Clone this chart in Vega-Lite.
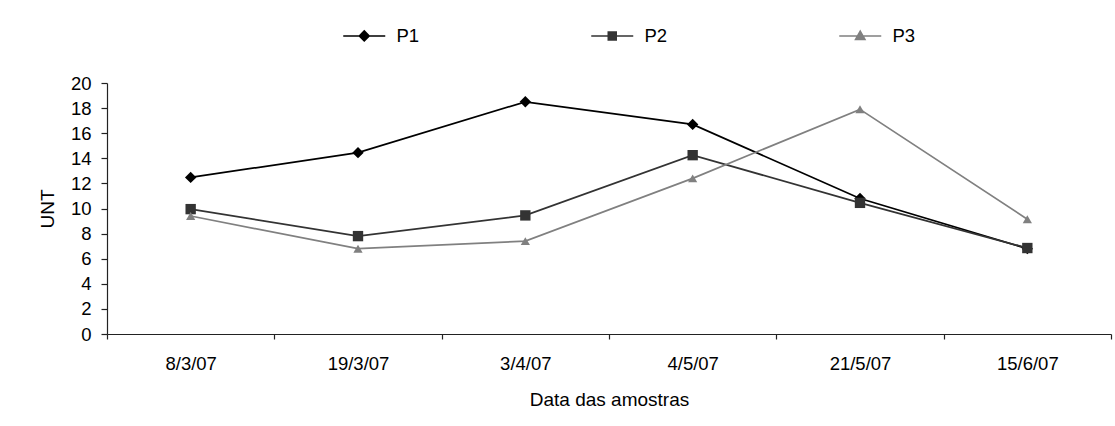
{
  "$schema": "https://vega.github.io/schema/vega-lite/v6.json",
  "autosize": {"type": "none"},
  "padding": {"left": 107, "top": 83, "right": 4, "bottom": 92},
  "width": 1004,
  "height": 251,
  "background": "white",
  "config": {
    "view": {"stroke": null},
    "font": "Liberation Sans",
    "axis": {"grid": false, "domainColor": "#222", "tickColor": "#222", "labelColor": "#000", "titleColor": "#000", "labelFont": "Liberation Sans", "titleFont": "Liberation Sans", "labelFontSize": 18.5, "titleFontSize": 19, "titleFontWeight": "normal", "domainWidth": 1.2, "tickWidth": 1.2}
  },
  "data": {"values": [
    {"date": "8/3/07", "series": "P1", "value": 12.48},
    {"date": "19/3/07", "series": "P1", "value": 14.45},
    {"date": "3/4/07", "series": "P1", "value": 18.5},
    {"date": "4/5/07", "series": "P1", "value": 16.7},
    {"date": "21/5/07", "series": "P1", "value": 10.8},
    {"date": "15/6/07", "series": "P1", "value": 6.8},
    {"date": "8/3/07", "series": "P2", "value": 9.95},
    {"date": "19/3/07", "series": "P2", "value": 7.8},
    {"date": "3/4/07", "series": "P2", "value": 9.45},
    {"date": "4/5/07", "series": "P2", "value": 14.25},
    {"date": "21/5/07", "series": "P2", "value": 10.45},
    {"date": "15/6/07", "series": "P2", "value": 6.85},
    {"date": "8/3/07", "series": "P3", "value": 9.4},
    {"date": "19/3/07", "series": "P3", "value": 6.8},
    {"date": "3/4/07", "series": "P3", "value": 7.4},
    {"date": "4/5/07", "series": "P3", "value": 12.4},
    {"date": "21/5/07", "series": "P3", "value": 17.9},
    {"date": "15/6/07", "series": "P3", "value": 9.15}
  ]},
  "encoding": {
    "x": {
      "field": "date", "type": "nominal", "sort": null, "bandPosition": 0.5,
      "scale": {"type": "band", "paddingInner": 0, "paddingOuter": 0},
      "axis": {"title": "Data das amostras", "labelAngle": 0, "tickBand": "extent", "tickSize": 5, "labelPadding": 15, "titleY": 65, "titleBaseline": "middle", "titleAnchor": "middle"}
    },
    "y": {
      "field": "value", "type": "quantitative",
      "scale": {"domain": [0, 20], "nice": false, "zero": true},
      "axis": {"title": "UNT", "values": [0, 2, 4, 6, 8, 10, 12, 14, 16, 18, 20], "tickSize": 6, "labelPadding": 10, "titleX": -60, "titleY": 125.5, "titleAngle": -90, "titleAlign": "center", "titleBaseline": "middle"}
    },
    "color": {
      "field": "series", "type": "nominal",
      "scale": {"domain": ["P1", "P2", "P3"], "range": ["#000000", "#333333", "#808080"]}
    }
  },
  "layer": [
    {
      "mark": {"type": "line", "strokeWidth": 1.7},
      "encoding": {"color": {"field": "series", "type": "nominal", "legend": null}}
    },
    {
      "mark": {"type": "point", "filled": true, "opacity": 1},
      "encoding": {
        "color": {"field": "series", "type": "nominal", "legend": null},
        "shape": {"field": "series", "type": "nominal", "scale": {"domain": ["P1", "P2", "P3"], "range": ["diamond", "square", "triangle-up"]}, "legend": null},
        "size": {"field": "series", "type": "nominal", "scale": {"domain": ["P1", "P2", "P3"], "range": [130, 85, 150]}, "legend": null}
      }
    },
    {
      "mark": {"type": "point", "filled": true, "opacity": 0},
      "encoding": {
        "color": {
          "field": "series", "type": "nominal",
          "legend": {
            "title": null, "orient": "none", "direction": "horizontal", "legendX": 248, "legendY": -56.5,
            "columnPadding": 168, "labelOffset": 23, "symbolSize": 100, "symbolStrokeWidth": 1.5, "symbolOpacity": 1,
            "labelFont": "Liberation Sans", "labelFontSize": 18.5, "labelColor": "#000",
            "encode": {"symbols": {"update": {"stroke": {"scale": "color", "field": "value"}, "fill": {"scale": "color", "field": "value"}, "opacity": {"value": 1}}}}
          }
        },
        "shape": {
          "field": "series", "type": "nominal",
          "scale": {"domain": ["P1", "P2", "P3"], "range": ["M-4.2,0H4.2M0,-1L1,0L0,1L-1,0Z", "M-4.2,0H4.2M-0.8,-0.8H0.8V0.8H-0.8Z", "M-4.2,0H4.2M0,-0.95L0.95,0.7H-0.95Z"]}
        }
      }
    }
  ],
  "resolve": {"scale": {"shape": "independent", "size": "independent"}, "legend": {"color": "independent", "shape": "independent"}}
}
